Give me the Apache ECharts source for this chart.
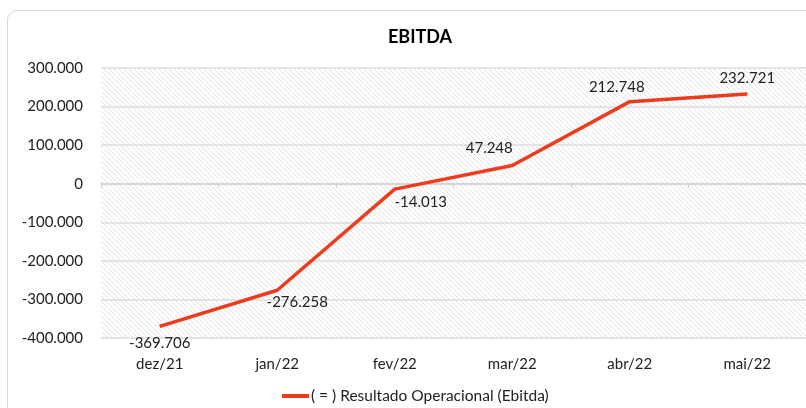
<html>
<head>
<meta charset="UTF-8" />
<script src="https://cdn.jsdelivr.net/npm/echarts@6/dist/echarts.min.js"></script>
</head>
<style type="text/css">
    *{
        margin: 0;
        padding: 0;
    }
    body{
        background: #fff;
    }
    .frame{
        position: absolute;
        left: 7px;
        top: 10px;
        width: 830px;
        height: 420px;
        border: 1px solid #d9d9d9;
        border-radius: 10px;
    }
    #chart{
        position: absolute;
        left: 0;
        top: 0;
        width: 806px;
        height: 408px;
    }
</style>
<body>
<div class="frame"></div>
<div id="chart"></div>
<script type="text/javascript">
    var months = ['dez/21', 'jan/22', 'fev/22', 'mar/22', 'abr/22', 'mai/22'];
    var ebitda = [-369706, -276258, -14013, 47248, 212748, 232721];
    var seriesName = '( = ) Resultado Operacional (Ebitda)';

    // fundo hachurado da área do gráfico
    var hatch = document.createElement('canvas');
    hatch.width = 5;
    hatch.height = 5;
    var ctx = hatch.getContext('2d');
    ctx.fillStyle = '#ffffff';
    ctx.fillRect(0, 0, 5, 5);
    ctx.strokeStyle = '#e2e2e2';
    ctx.lineWidth = 1;
    ctx.beginPath();
    ctx.moveTo(-1, -1); ctx.lineTo(6, 6);
    ctx.moveTo(-1, 4); ctx.lineTo(1, 6);
    ctx.moveTo(4, -1); ctx.lineTo(6, 1);
    ctx.stroke();

    function fmt(v) {
        if (v === 0) return '0';
        var s = Math.abs(v).toString().replace(/\B(?=(\d{3})+(?!\d))/g, '.');
        return (v < 0 ? '-' : '') + s;
    }

    // posição dos rótulos de cada ponto
    var labelPos = [
        {position: 'bottom', distance: 9, offset: [0, 0]},
        {position: 'bottom', distance: 4, offset: [20, 0]},
        {position: 'bottom', distance: 5, offset: [26, 0]},
        {position: 'top', distance: 9, offset: [-23, 0]},
        {position: 'top', distance: 6, offset: [-13, 0]},
        {position: 'top', distance: 8, offset: [0, 0]}
    ];
    var points = ebitda.map(function (v, i) {
        return {value: v, label: labelPos[i]};
    });

    var myChart = echarts.init(document.getElementById('chart'));
    var font = 'Lato, "Open Sans", sans-serif';
    var option = {
        backgroundColor: 'transparent',
        textStyle: {fontFamily: font},
        title: {
            text: 'EBITDA',
            left: 383,
            top: 23,
            textStyle: {fontSize: 18, fontWeight: 'bold', color: '#000', fontFamily: font}
        },
        legend: {
            left: 277,
            top: 383,
            icon: 'rect',
            itemWidth: 27,
            itemHeight: 4,
            itemGap: 4,
            textStyle: {fontSize: 15.5, color: '#222', fontFamily: font, padding: [0, 0, 0, -3]},
            data: [seriesName]
        },
        grid: {
            left: 101,
            right: 0,
            top: 68,
            bottom: 70,
            show: true,
            borderWidth: 0,
            backgroundColor: {image: hatch, repeat: 'repeat'}
        },
        xAxis: [{
            type: 'category',
            data: months,
            position: 'bottom',
            axisLine: {show: false, onZero: false},
            axisTick: {show: false},
            axisLabel: {fontSize: 15, color: '#222', margin: 19}
        }, {
            type: 'category',
            data: months,
            position: 'bottom',
            axisLine: {show: true, onZero: true, lineStyle: {color: '#d0d0d0', width: 1.5}},
            axisTick: {show: true, inside: false, length: 4, lineStyle: {color: '#d0d0d0'}},
            axisLabel: {show: false}
        }],
        yAxis: {
            type: 'value',
            min: -400000,
            max: 300000,
            interval: 100000,
            axisLine: {show: false},
            axisTick: {show: false},
            splitLine: {lineStyle: {color: '#dcdcdc', width: 1.5}},
            axisLabel: {
                fontSize: 15,
                color: '#222',
                margin: 18,
                formatter: fmt
            }
        },
        series: [{
            name: seriesName,
            type: 'line',
            data: points,
            symbol: 'circle',
            symbolSize: 1,
            color: '#ec3b1d',
            lineStyle: {color: '#ec3b1d', width: 3.5},
            itemStyle: {color: '#ec3b1d'},
            label: {
                show: true,
                fontSize: 15,
                color: '#222',
                fontFamily: font,
                formatter: function (p) { return fmt(p.value); }
            }
        }]
    };
    myChart.setOption(option);
</script>
</body>
</html>
